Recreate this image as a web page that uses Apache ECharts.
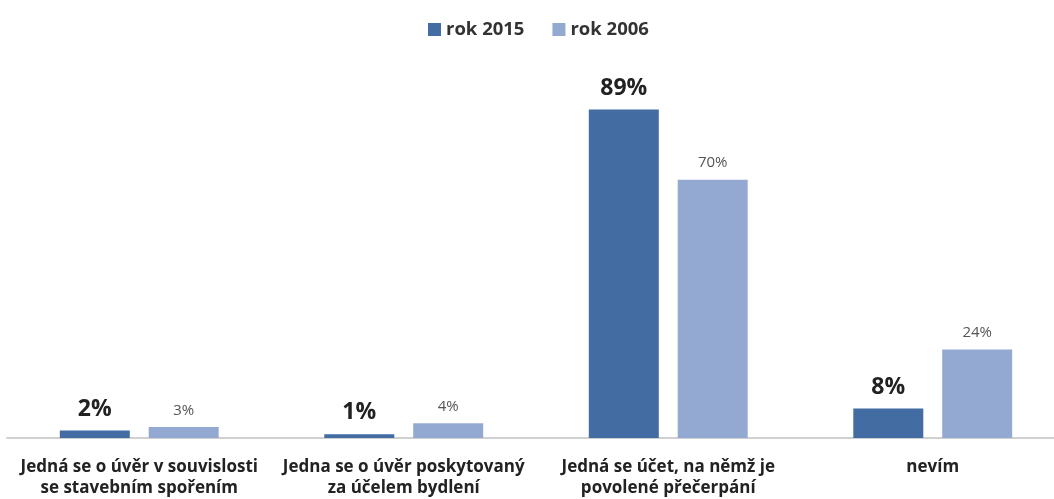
<!DOCTYPE html>
<html>
<head>
<meta charset="utf-8">
<script src="https://cdn.jsdelivr.net/npm/echarts@6/dist/echarts.min.js"></script>
<style>
  html, body { margin: 0; padding: 0; background: #fff; overflow: hidden; }
  /* the plot runs slightly past the right edge of the page */
  #chart { width: 1066px; height: 499px; }
</style>
</head>
<body>
<div id="chart"></div>
<script>
// Answers grouped by category, compared between two survey years
const categories = [
  'Jedná se o úvěr v souvislosti\nse stavebním spořením',
  'Jedna se o úvěr poskytovaný\nza účelem bydlení',
  'Jedná se účet, na němž je\npovolené přečerpání',
  'nevím'
];
const seriesNames = ['rok 2015', 'rok 2006'];
const values2015 = [2, 1, 89, 8];
const values2006 = [3, 4, 70, 24];

const chart = echarts.init(document.getElementById('chart'));
const fontFamily = '"Open Sans", "DejaVu Sans", sans-serif';

chart.setOption({
  animation: false,
  textStyle: { fontFamily },
  legend: {
    top: 15,
    left: 423,
    itemWidth: 13,
    itemHeight: 13,
    itemGap: 28,
    icon: 'rect',
    textStyle: { fontSize: 18.5, fontWeight: 'bold', color: '#333', fontFamily },
    data: seriesNames
  },
  grid: { left: 7, right: 1, top: 69, bottom: 60, containLabel: false },
  xAxis: {
    type: 'category',
    data: categories,
    axisLine: { lineStyle: { color: '#d0d0d0', width: 2 } },
    axisTick: { show: false },
    axisLabel: {
      interval: 0,
      margin: 19,
      fontSize: 17,
      fontWeight: 'bold',
      color: '#222',
      lineHeight: 21,
      fontFamily
    }
  },
  yAxis: {
    type: 'value',
    min: 0,
    max: 100,
    show: false,
    splitLine: { show: false }
  },
  series: [
    {
      name: seriesNames[0],
      type: 'bar',
      data: values2015,
      barWidth: 70,
      barGap: '27%',
      itemStyle: { color: '#436ca3' },
      label: {
        show: true,
        position: 'top',
        distance: 10,
        formatter: '{c}%',
        fontSize: 23,
        fontWeight: 'bold',
        color: '#222',
        fontFamily
      }
    },
    {
      name: seriesNames[1],
      type: 'bar',
      data: values2006,
      barWidth: 70,
      itemStyle: { color: '#94a9d2' },
      label: {
        show: true,
        position: 'top',
        distance: 9,
        formatter: '{c}%',
        fontSize: 15,
        color: '#555',
        fontFamily
      }
    }
  ]
});
</script>
</body>
</html>
